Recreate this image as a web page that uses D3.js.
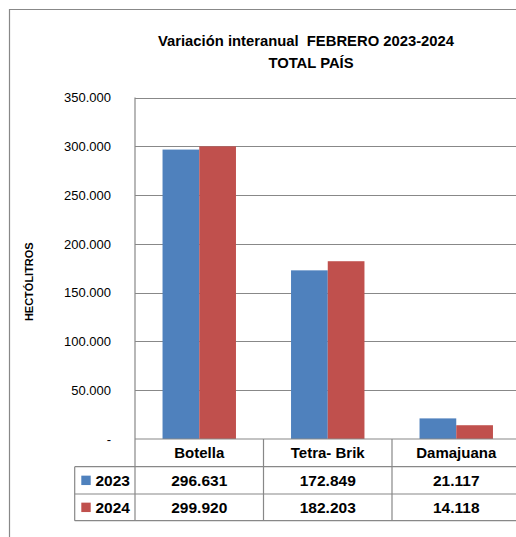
<!DOCTYPE html>
<html>
<head>
<meta charset="utf-8">
<script src="https://cdn.jsdelivr.net/npm/d3@7"></script>
<style>
  body { margin: 0; background: #fff; }
  svg { display: block; font-family: "Liberation Sans", Arial, sans-serif; }
  text { white-space: pre; }
</style>
</head>
<body>
<svg id="chart" width="516" height="537"></svg>
<script>
// chart data
var categories = ["Botella", "Tetra- Brik", "Damajuana"];
var series = ["2023", "2024"];
var values2023 = [296631, 172849, 21117];
var values2024 = [299920, 182203, 14118];
var seriesColors = ["#4F81BD", "#C0504D"];
var yTickValues = [0, 50000, 100000, 150000, 200000, 250000, 300000, 350000];
var titleLines = ["Variación interanual  FEBRERO 2023-2024", "TOTAL PAÍS"];
var yTitle = "HECTÓLITROS";

var seriesValues = [values2023, values2024];

var svg = d3.select("#chart");
var gridColor = "#888888";

var plot = {left: 135, right: 520.5, top: 97.5, bottom: 439};
var rowY = [439, 466.7, 494, 520.7];
var legendLeft = 74.7;

var es = d3.formatLocale({decimal: ",", thousands: ".", grouping: [3], currency: ["$", ""]});
var fmt = es.format(",.0f");

var x0 = d3.scaleBand().domain(categories).range([plot.left, plot.right]).padding(0);
var x1 = d3.scaleBand().domain(series).range([0, x0.bandwidth()]).paddingInner(0).paddingOuter(0.75);
var y = d3.scaleLinear().domain([0, 350000]).range([plot.bottom, plot.top]);

// outer chart border
svg.append("path")
    .attr("d", "M9.5,537 L9.5,9.5 L516,9.5")
    .attr("fill", "none")
    .attr("stroke", gridColor)
    .attr("stroke-width", 1.2);

// title
titleLines.forEach(function (t, i) {
    svg.append("text")
        .attr("x", i == 0 ? 306 : 311)
        .attr("y", i == 0 ? 46 : 68.3)
        .attr("text-anchor", "middle")
        .attr("font-size", 14.8)
        .attr("font-weight", "bold")
        .attr("fill", "#000")
        .text(t);
});

// gridlines
svg.append("g").selectAll("line")
    .data(yTickValues.filter(function (d) {return d > 0;}))
    .enter().append("line")
    .attr("x1", plot.left).attr("x2", 516)
    .attr("y1", function (d) {return Math.round(y(d)) + 0.5;})
    .attr("y2", function (d) {return Math.round(y(d)) + 0.5;})
    .attr("stroke", gridColor)
    .attr("stroke-width", 1);

// y axis tick labels
var yAxis = d3.axisLeft(y)
    .tickValues(yTickValues)
    .tickSize(0)
    .tickPadding(0)
    .tickFormat(function (d) {return d == 0 ? "-" : fmt(d);});
var gy = svg.append("g")
    .attr("transform", "translate(111,0)")
    .call(yAxis);
gy.select(".domain").remove();
gy.selectAll("text")
    .attr("font-family", "Liberation Sans, Arial, sans-serif")
    .attr("font-size", 13)
    .attr("fill", "#000");

// y axis title
svg.append("text")
    .attr("transform", "translate(33,281.7) rotate(-90)")
    .attr("text-anchor", "middle")
    .attr("font-size", 11)
    .attr("font-weight", "bold")
    .text(yTitle);

// bars
var groups = svg.append("g").selectAll("g")
    .data(categories)
    .enter().append("g")
    .attr("transform", function (d) {return "translate(" + x0(d) + ",0)";});
groups.selectAll("rect")
    .data(function (d, i) {
        return series.map(function (s, j) {return {s: s, j: j, v: seriesValues[j][i]};});
    })
    .enter().append("rect")
    .attr("x", function (d) {return x1(d.s);})
    .attr("width", x1.bandwidth())
    .attr("y", function (d) {return y(d.v);})
    .attr("height", function (d) {return y(0) - y(d.v);})
    .attr("fill", function (d) {return seriesColors[d.j];});

// data table lines
var table = svg.append("g").attr("stroke", gridColor).attr("stroke-width", 1.2);
rowY.forEach(function (ry, i) {
    table.append("line")
        .attr("x1", i == 0 ? plot.left : legendLeft).attr("x2", 516)
        .attr("y1", ry).attr("y2", ry);
});
table.append("line")
    .attr("x1", legendLeft).attr("x2", legendLeft)
    .attr("y1", rowY[1]).attr("y2", rowY[3]);
table.append("line")
    .attr("x1", plot.left).attr("x2", plot.left)
    .attr("y1", plot.top).attr("y2", rowY[3]);
categories.forEach(function (c, i) {
    if (i == 0) return;
    table.append("line")
        .attr("x1", x0(c)).attr("x2", x0(c))
        .attr("y1", rowY[0]).attr("y2", rowY[3]);
});

// category header
svg.append("g").selectAll("text")
    .data(categories)
    .enter().append("text")
    .attr("x", function (d) {return x0(d) + x0.bandwidth() / 2;})
    .attr("y", (rowY[0] + rowY[1]) / 2 + 5.3)
    .attr("text-anchor", "middle")
    .attr("font-size", 15)
    .attr("font-weight", "bold")
    .text(function (d) {return d;});

// series rows
series.forEach(function (s, j) {
    var cy = (rowY[j + 1] + rowY[j + 2]) / 2;
    svg.append("rect")
        .attr("x", 81.3).attr("y", cy - 4.7)
        .attr("width", 9.4).attr("height", 9.4)
        .attr("fill", seriesColors[j]);
    svg.append("text")
        .attr("x", 95.5).attr("y", cy + 5.3)
        .attr("font-size", 15.5)
        .attr("font-weight", "bold")
        .text(s);
    svg.append("g").selectAll("text")
        .data(seriesValues[j])
        .enter().append("text")
        .attr("x", function (d, i) {return x0(categories[i]) + x0.bandwidth() / 2;})
        .attr("y", cy + 5.3)
        .attr("text-anchor", "middle")
        .attr("font-size", 15.5)
        .attr("font-weight", "bold")
        .text(function (d) {return fmt(d);});
});
</script>
</body>
</html>
